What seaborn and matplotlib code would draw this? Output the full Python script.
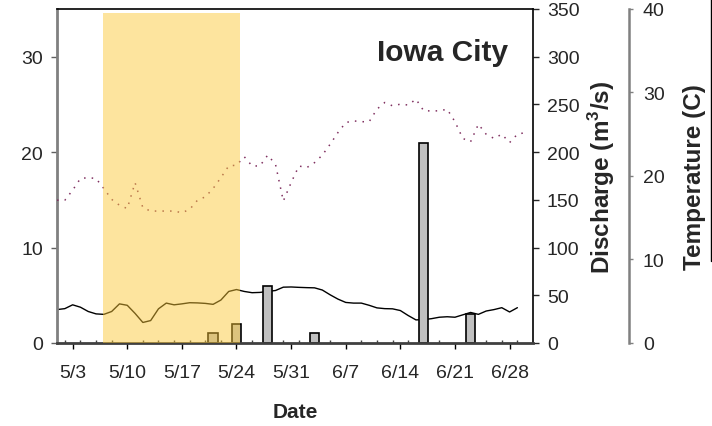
import pandas as pd
import matplotlib
matplotlib.use("Agg")
import matplotlib.pyplot as plt
from matplotlib.lines import Line2D
import seaborn as sns

# -----------------------------
# data (daily, from May 1)
# -----------------------------
discharge = [35, 36, 40, 37.5, 33, 30.5, 30, 33, 41, 39.5,
             31, 21.5, 23.5, 35.8, 41.8, 40, 41, 42.2, 42, 41.5,
             40.5, 45, 54, 56, 54, 52.7, 53, 54, 55, 58.5,
             58.7, 58.3, 58, 57.8, 55.5, 50.5, 46, 42.5, 41.8, 41.8,
             39.5, 36.8, 36, 35.8, 34, 28.8, 24.2, 24.5, 25.5, 27,
             27.5, 27, 29.5, 32, 30, 33.5, 35, 37, 32.5, 37]

temperature = [17.1, 17.1, 18.3, 19.7, 19.8, 19.7, 18.5, 17.2, 16.5, 16.1,
               19.2, 16.2, 15.8, 15.8, 15.8, 15.8, 15.6, 16.0, 17.1, 17.5,
               18.5, 19.8, 21.2, 21.3, 22.3, 21.2, 21.2, 22.5, 21.4, 17.0,
               19.2, 21.2, 21.0, 21.6, 22.5, 23.8, 25.2, 26.4, 26.6, 26.5,
               26.5, 28.0, 28.8, 28.4, 28.6, 28.5, 29.2, 27.8, 27.8, 27.8,
               28.0, 26.5, 24.5, 24.1, 26.2, 25.0, 24.5, 25.0, 24.0, 25.0,
               25.2]

rain_dates = ["2008-05-21", "2008-05-24", "2008-05-28", "2008-06-03",
              "2008-06-17", "2008-06-23"]
rain = [1, 2, 6, 1, 21, 3]

shade_start = "2008-05-06 20:00"
shade_end = "2008-05-24 10:00"

xtick_dates = ["2008-05-03", "2008-05-10", "2008-05-17", "2008-05-24",
               "2008-05-31", "2008-06-07", "2008-06-14", "2008-06-21",
               "2008-06-28"]
xtick_labels = ["5/3", "5/10", "5/17", "5/24", "5/31", "6/7", "6/14",
                "6/21", "6/28"]

q_dates = pd.date_range("2008-05-01", periods=len(discharge), freq="D")
t_dates = pd.date_range("2008-05-01", periods=len(temperature), freq="D")

# -----------------------------
# style
# -----------------------------
sns.set_style("ticks")
plt.rcParams["font.family"] = ["Liberation Sans", "DejaVu Sans"]
plt.rcParams["mathtext.fontset"] = "custom"
plt.rcParams["mathtext.rm"] = "Liberation Sans"
plt.rcParams["mathtext.bf"] = "Liberation Sans:bold"

fig = plt.figure(figsize=(7.12, 4.27), dpi=100)
ax = fig.add_axes([0.0801, 0.1944, 0.6685, 0.7822])
ax_q = ax.twinx()
ax_t = ax.twinx()

ax_q.set_zorder(1)
ax.set_zorder(2)
ax_t.set_zorder(3)
ax.patch.set_visible(False)
ax_t.patch.set_visible(False)

# precipitation bars (left axis)
ax.bar(pd.to_datetime(rain_dates), rain, width=1.2, color="#c0c0c0",
       edgecolor="black", linewidth=1.2)

# discharge
sns.lineplot(x=q_dates, y=discharge, ax=ax_q, color="black", linewidth=1)

# temperature
sns.lineplot(x=t_dates, y=temperature, ax=ax_t, color="#803060",
             linewidth=1.1, linestyle=(0, (1, 4)))

# shaded period
ax_t.axvspan(pd.Timestamp(shade_start), pd.Timestamp(shade_end), ymin=0,
             ymax=0.988, color="#fbc735", alpha=0.48, linewidth=0, zorder=5)

# -----------------------------
# axes
# -----------------------------
ax.set_xlim(pd.Timestamp("2008-05-01"), pd.Timestamp("2008-07-01"))
ax.set_ylim(0, 35)
ax_q.set_ylim(0, 350)
ax_t.set_ylim(0, 40)

ax.set_xticks(pd.to_datetime(xtick_dates), xtick_labels)
ax.set_xticks(pd.date_range("2008-05-02", "2008-06-30", freq="2D"), minor=True)
ax.set_yticks([0, 10, 20, 30])
ax_q.set_yticks([0, 50, 100, 150, 200, 250, 300, 350])
ax_t.set_yticks([0, 10, 20, 30, 40])

ax.tick_params(axis="x", which="major", direction="out", length=4, width=1,
               labelsize=14, pad=11, color="black")
ax.tick_params(axis="x", which="minor", direction="in", length=2, width=1,
               color="#404040")
ax.tick_params(axis="y", direction="out", length=4, width=1, labelsize=14,
               pad=6, color="#606060")
ax_q.tick_params(axis="y", direction="out", length=4, width=1, labelsize=14,
                 pad=6)
ax_t.tick_params(axis="y", direction="out", length=3, width=1, labelsize=14,
                 pad=7, color="#808080")

ax.spines["right"].set_visible(False)
ax.spines["left"].set_color("#808080")
ax.spines["left"].set_linewidth(2)
ax.spines["bottom"].set_color("#404040")
ax.spines["bottom"].set_linewidth(2)
ax.spines["top"].set_color("black")
ax.spines["top"].set_linewidth(1.2)

for a in [ax_q, ax_t]:
    for side in ["left", "top", "bottom"]:
        a.spines[side].set_visible(False)
ax_q.spines["right"].set_color("black")
ax_q.spines["right"].set_linewidth(1.2)
ax_t.spines["right"].set_position(("axes", 1.2017))
ax_t.spines["right"].set_color("#808080")
ax_t.spines["right"].set_linewidth(1.8)

ax.set_ylabel("")
ax_q.set_xlabel("")
ax_t.set_xlabel("")
ax.set_xlabel("Date", fontsize=15, fontweight="bold", labelpad=15)
ax_q.set_ylabel(r"Discharge (m$^\mathbf{3}$/s)", fontsize=17.5,
                fontweight="bold", labelpad=5)
ax_t.set_ylabel("Temperature (C)", fontsize=17.5, fontweight="bold",
                labelpad=13)

ax.text(0.9475, 0.847, "Iowa City", transform=ax.transAxes, ha="right",
        va="baseline", fontsize=21.5, fontweight="bold")

# thin frame line at the right edge of the original image
fig.add_artist(Line2D([0.9986, 0.9986], [1.0, 0.386], color="black",
                      linewidth=1))

fig.savefig("out.png", dpi=100)
